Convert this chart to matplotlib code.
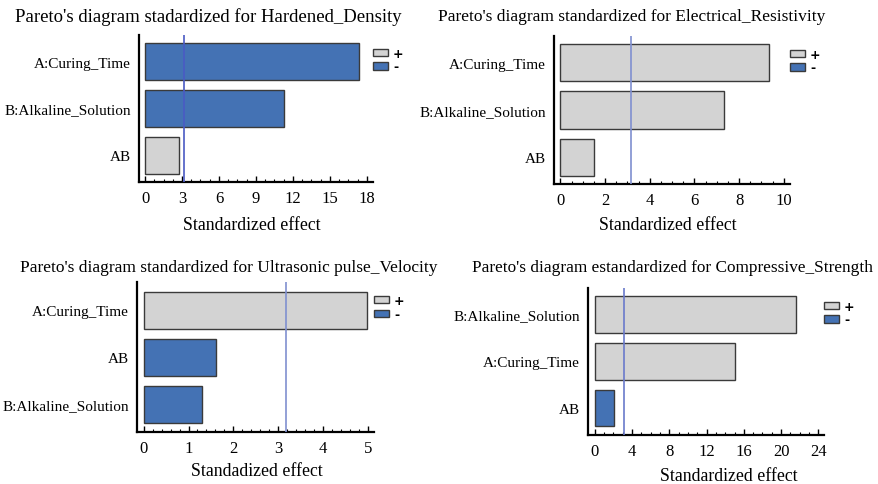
import matplotlib
matplotlib.use("Agg")
import matplotlib.pyplot as plt
from matplotlib.patches import Patch
from matplotlib.ticker import MultipleLocator, AutoMinorLocator

W, H = 879, 485

# ---------------- data ----------------
titles = [
    "Pareto's diagram stadardized for Hardened_Density",
    "Pareto's diagram standardized for Electrical_Resistivity",
    "Pareto's diagram standardized for Ultrasonic pulse_Velocity",
    "Pareto's diagram estandardized for Compressive_Strength",
]
xlabels = ["Standardized effect", "Standardized effect",
           "Standadized effect", "Standardized effect"]

density_terms = ["A:Curing_Time", "B:Alkaline_Solution", "AB"]
density_effects = [17.38, 11.24, 2.76]
density_signs = ["-", "-", "+"]

resist_terms = ["A:Curing_Time", "B:Alkaline_Solution", "AB"]
resist_effects = [9.34, 7.32, 1.51]
resist_signs = ["+", "+", "+"]

upv_terms = ["A:Curing_Time", "AB", "B:Alkaline_Solution"]
upv_effects = [4.98, 1.62, 1.30]
upv_signs = ["+", "-", "-"]

comp_terms = ["B:Alkaline_Solution", "A:Curing_Time", "AB"]
comp_effects = [21.6, 15.05, 2.04]
comp_signs = ["+", "+", "-"]

critical_t = [3.18, 3.18, 3.18, 3.18]
x_major = [3, 2, 1, 4]
x_minor_div = [4, 4, 5, 4]

panels = [
    (density_terms, density_effects, density_signs),
    (resist_terms, resist_effects, resist_signs),
    (upv_terms, upv_effects, upv_signs),
    (comp_terms, comp_effects, comp_signs),
]

# ---------------- layout (pixels) ----------------
boxes = [
    (139, 373, 36, 183, (-0.49, 18.5), (2.564, -0.564)),
    (554, 790, 37, 185, (-0.29, 10.28), (2.558, -0.558)),
    (137, 374, 283, 433, (-0.15, 5.14), (2.59, -0.605)),
    (588, 824, 289, 436, (-0.72, 24.6), (2.578, -0.567)),
]
title_pos = [(208, 17), (632, 17), (229, 268), (673, 268)]
title_size = [13.5, 12.5, 12.5, 12.4]
xlabel_pos = [(252, 225), (668, 225), (257, 472), (729, 477)]
vline_colors = ["#4a5ac4", "#7f8fd0", "#8090d0", "#6a7acb"]

POS = "#d3d3d3"
NEG = "#4472b4"
EDGE = "#3a3a3a"
serif = ["Liberation Serif", "DejaVu Serif"]

fig = plt.figure(figsize=(W / 100, H / 100), dpi=100)

for i, ((terms, effects, signs), box) in enumerate(zip(panels, boxes)):
    l, r, t, b, xl, yl = box
    ax = fig.add_axes([l / W, 1 - b / H, (r - l) / W, (b - t) / H])
    colors = [POS if s == "+" else NEG for s in signs]
    ypos = list(range(len(terms)))
    ax.barh(ypos, effects, height=0.79, color=colors, edgecolor=EDGE,
            linewidth=1.0, zorder=2)
    ax.axvline(critical_t[i], color=vline_colors[i], lw=1.2, zorder=3)
    ax.set_xlim(*xl)
    ax.set_ylim(*yl)
    ax.set_yticks(ypos)
    ax.set_yticklabels(terms, family=serif, fontsize=11)
    ax.tick_params(axis="y", length=0, pad=6)
    ax.xaxis.set_major_locator(MultipleLocator(x_major[i]))
    ax.xaxis.set_minor_locator(AutoMinorLocator(x_minor_div[i]))
    ax.tick_params(axis="x", which="major", direction="in", length=4,
                   width=1, pad=6, labelsize=12)
    ax.tick_params(axis="x", which="minor", direction="in", length=2, width=0.8)
    for lab in ax.get_xticklabels():
        lab.set_family(serif)
    ax.spines["top"].set_visible(False)
    ax.spines["right"].set_visible(False)
    ax.spines["left"].set_linewidth(1.6)
    ax.spines["bottom"].set_linewidth(1.6)
    handles = [Patch(facecolor=POS, edgecolor=EDGE, label="+"),
               Patch(facecolor=NEG, edgecolor=EDGE, label="-")]
    ax.legend(handles=handles, loc="upper left",
              bbox_to_anchor=(1.0, 0.92), frameon=False,
              handlelength=1.2, handleheight=0.5, handletextpad=0.4,
              labelspacing=0.05, borderpad=0, borderaxespad=0,
              prop={"size": 9, "weight": "bold", "family": "DejaVu Sans"})
    tx, ty = title_pos[i]
    fig.text(tx / W, 1 - ty / H, titles[i], ha="center", va="center",
             family=serif, fontsize=title_size[i])
    lx, ly = xlabel_pos[i]
    fig.text(lx / W, 1 - ly / H, xlabels[i], ha="center", va="center",
             family=serif, fontsize=12.8)

fig.savefig("out.png", dpi=100)
